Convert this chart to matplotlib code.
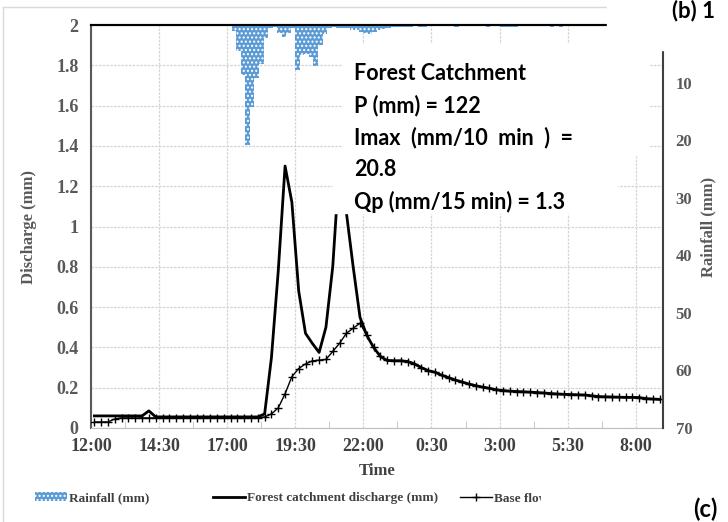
import numpy as np
import matplotlib
matplotlib.use("Agg")
import matplotlib.pyplot as plt
from matplotlib.patches import Rectangle, Patch
from matplotlib.lines import Line2D

# --- data ---
# 15-min discharge series, starting 12:00
discharge = [0.06, 0.06, 0.06, 0.06, 0.06, 0.06, 0.06, 0.06, 0.085, 0.055,
             0.055, 0.055, 0.055, 0.055, 0.055, 0.055, 0.055, 0.055, 0.055, 0.055,
             0.055, 0.055, 0.055, 0.055, 0.055, 0.07, 0.35, 0.78, 1.30, 1.12,
             0.68, 0.47, 0.42, 0.375, 0.50, 0.80, 1.32, 1.07, 0.80, 0.55,
             0.46, 0.40, 0.355, 0.335, 0.334, 0.334, 0.33, 0.318, 0.30, 0.285,
             0.277, 0.262, 0.25, 0.238, 0.228, 0.218, 0.21, 0.203, 0.197, 0.19,
             0.186, 0.183, 0.181, 0.18, 0.178, 0.176, 0.174, 0.171, 0.169, 0.167,
             0.166, 0.165, 0.164, 0.16, 0.156, 0.155, 0.154, 0.153, 0.152, 0.152,
             0.151, 0.146, 0.144, 0.142]
baseflow = [0.03, 0.03, 0.03, 0.045, 0.05, 0.05, 0.05, 0.05, 0.05, 0.05,
            0.05, 0.05, 0.05, 0.05, 0.05, 0.05, 0.05, 0.05, 0.05, 0.05,
            0.05, 0.05, 0.05, 0.05, 0.05, 0.055, 0.07, 0.10, 0.17, 0.255,
            0.295, 0.318, 0.333, 0.337, 0.34, 0.38, 0.42, 0.47, 0.495, 0.52,
            0.46, 0.40, 0.355, 0.335, 0.334, 0.334, 0.33, 0.318, 0.30, 0.285,
            0.277, 0.262, 0.25, 0.238, 0.228, 0.218, 0.21, 0.203, 0.197, 0.19,
            0.186, 0.183, 0.181, 0.18, 0.178, 0.176, 0.174, 0.171, 0.169, 0.167,
            0.166, 0.165, 0.164, 0.16, 0.156, 0.155, 0.154, 0.153, 0.152, 0.152,
            0.151, 0.146, 0.144, 0.142]

# 10-min rainfall (only non-zero intervals)
rain_time = ["17:10", "17:20", "17:30", "17:40", "17:50", "18:00", "18:10", "18:20",
             "18:30", "18:40", "18:50", "19:00", "19:10", "19:20", "19:30", "19:40",
             "19:50", "20:00", "20:10", "20:20", "20:30", "20:40", "20:50", "21:00",
             "21:10", "21:20", "21:30", "21:40", "21:50", "22:00", "22:10", "22:20",
             "22:30", "22:40", "22:50", "23:00", "23:10", "23:20", "23:30", "23:40",
             "0:00", "0:10", "1:20", "2:30", "3:00", "3:10", "3:20", "3:30", "4:50", "5:10"]
rain_mm = [1.0, 4.5, 8.6, 20.8, 14.3, 9.2, 6.8, 2.2, 0.5, 0.3, 1.4, 2.1, 1.4, 0.5,
           7.9, 5.2, 5.0, 5.6, 7.1, 3.4, 1.6, 0.5, 0.4, 0.5, 0.6, 0.6, 0.8, 0.9,
           1.2, 1.4, 1.5, 1.3, 0.9, 0.7, 0.6, 0.3, 0.3, 0.3, 0.3, 0.3,
           0.3, 0.3, 0.3, 0.3, 0.3, 0.3, 0.3, 0.3, 0.3, 0.3]

x_ticklabels = ["12:00", "14:30", "17:00", "19:30", "22:00", "0:30", "3:00", "5:30", "8:00"]
y_ticklabels = ["0", "0.2", "0.4", "0.6", "0.8", "1", "1.2", "1.4", "1.6", "1.8", "2"]
rain_ticks = [10, 20, 30, 40, 50, 60, 70]

info = "Forest Catchment\nP (mm) = 122\nImax  (mm/10  min  )  =\n20.8\nQp (mm/15 min) = 1.3"
labels = ["Rainfall (mm)", "Forest catchment discharge (mm)", "Base flow (mm)"]


def hours(s):
    h, m = map(int, s.split(":"))
    v = h + m / 60 - 12
    return v if v >= 0 else v + 24


t = 0.125 + 0.25 * np.arange(len(discharge))   # centre of each 15-min category
rt = [hours(s) for s in rain_time]

serif = ["Liberation Serif", "DejaVu Serif"]
sans = ["Lato", "DejaVu Sans"]
W, H = 728, 522

fig = plt.figure(figsize=(7.28, 5.22), dpi=100)
ax = fig.add_axes([91 / W, 1 - 428 / H, (663 - 91) / W, (428 - 25) / H])

ax.plot(t, discharge, color="black", lw=2, zorder=3)
ax.plot(t, baseflow, color="black", lw=1, marker="+", ms=6, mew=1, zorder=4)

ax.set_xlim(0, 21)
ax.set_ylim(0, 2)
ax.set_xticks(np.arange(0, 21, 2.5))
ax.set_xticklabels(x_ticklabels)
ax.set_xticks(np.arange(1.25, 21, 2.5), minor=True)
ax.set_yticks(np.linspace(0, 2, 11))
ax.set_yticklabels(y_ticklabels)
ax.grid(True, color="#d4d4d4", lw=0.9, ls=(0, (2, 1)))
ax.set_axisbelow(True)

ax.tick_params(axis="y", length=0, pad=9, labelcolor="#595959")
ax.tick_params(axis="x", which="major", length=0, pad=7, labelcolor="#404040")
ax.tick_params(axis="x", which="minor", length=5, direction="in", color="#bfbfbf")
for lab in ax.get_yticklabels() + ax.get_xticklabels():
    lab.set_family(serif)
    lab.set_weight("bold")
    lab.set_fontsize(13)

ax.set_ylabel("Discharge (mm)", family=serif, weight="bold", fontsize=12,
              color="#595959", labelpad=14)
ax.set_xlabel("Time", family=serif, weight="bold", fontsize=12,
              color="#404040", labelpad=6)

ax.spines["left"].set_color("#595959")
ax.spines["left"].set_linewidth(1.5)
ax.spines["bottom"].set_color("#bfbfbf")
ax.spines["top"].set_color("black")
ax.spines["top"].set_linewidth(1.5)
ax.spines["right"].set_visible(False)

# rainfall on reversed secondary axis
ax2 = ax.twinx()
ax2.bar(rt, rain_mm, width=1 / 6, align="edge", color="#5B9BD5",
        edgecolor="white", hatch="....", lw=0)
ax2.set_ylim(70, 0)
ax2.set_yticks(rain_ticks)
ax2.tick_params(axis="y", length=0, pad=9, labelcolor="#595959")
for lab in ax2.get_yticklabels():
    lab.set_family(serif)
    lab.set_weight("bold")
    lab.set_fontsize(12)
ax2.set_ylabel("Rainfall (mm)", family=serif, weight="bold", fontsize=12,
               color="#595959", labelpad=6)
ax2.spines["right"].set_color("#404040")
ax2.spines["right"].set_linewidth(1.5)
ax2.spines["top"].set_linewidth(1.5)
for s in ["left", "bottom"]:
    ax2.spines[s].set_visible(False)

# white text box (hides the second peak)
fig.add_artist(Rectangle((343 / W, 1 - 155 / H), (648 - 343) / W, (155 - 44) / H,
                         transform=fig.transFigure, color="white", zorder=5))
fig.add_artist(Rectangle((333 / W, 1 - 213 / H), (617 - 333) / W, (213 - 150) / H,
                         transform=fig.transFigure, color="white", zorder=5))
fig.text(354 / W, 1 - 63 / H, info, family=sans, weight="bold",
         fontsize=15.5, va="top", ha="left", linespacing=1.6, zorder=6)

# legend: one entry per legend so each sits where the reference has it
handles = [Patch(facecolor="#5B9BD5", edgecolor="white", hatch="....", lw=0),
           Line2D([], [], color="black", lw=2),
           Line2D([], [], color="black", lw=1, marker="+", ms=6)]
for h, lab, x0 in zip(handles, labels, [35, 213, 460]):
    leg = fig.legend([h], [lab], loc="center left", bbox_to_anchor=(x0 / W, 1 - 498 / H),
                     frameon=False, handlelength=2.4, handletextpad=0.2,
                     borderaxespad=0, borderpad=0,
                     prop={"family": serif, "weight": "bold", "size": 9.5},
                     labelcolor="#404040")

# chart border and the neighbouring panels covering the edges
fig.add_artist(Line2D([3 / W, 3 / W], [0, 1 - 7 / H], transform=fig.transFigure,
                      color="#d9d9d9", lw=1, zorder=7))
fig.add_artist(Line2D([3 / W, 1], [1 - 7 / H, 1 - 7 / H], transform=fig.transFigure,
                      color="#d9d9d9", lw=1, zorder=7))
fig.add_artist(Rectangle((607 / W, 1 - 50 / H), 1, 50 / H, transform=fig.transFigure,
                         color="white", zorder=10))
fig.add_artist(Rectangle((541 / W, 0), 1, 37 / H, transform=fig.transFigure,
                         color="white", zorder=10))
fig.text(672 / W, 1 - 11 / H, "(b) 1", family=sans, weight="bold",
         fontsize=16, va="center", ha="left", zorder=11)
fig.text(693 / W, 1 - 509 / H, "(c)", family=sans, weight="bold",
         fontsize=17, va="center", ha="left", zorder=11)

fig.savefig("out.png", dpi=100)
